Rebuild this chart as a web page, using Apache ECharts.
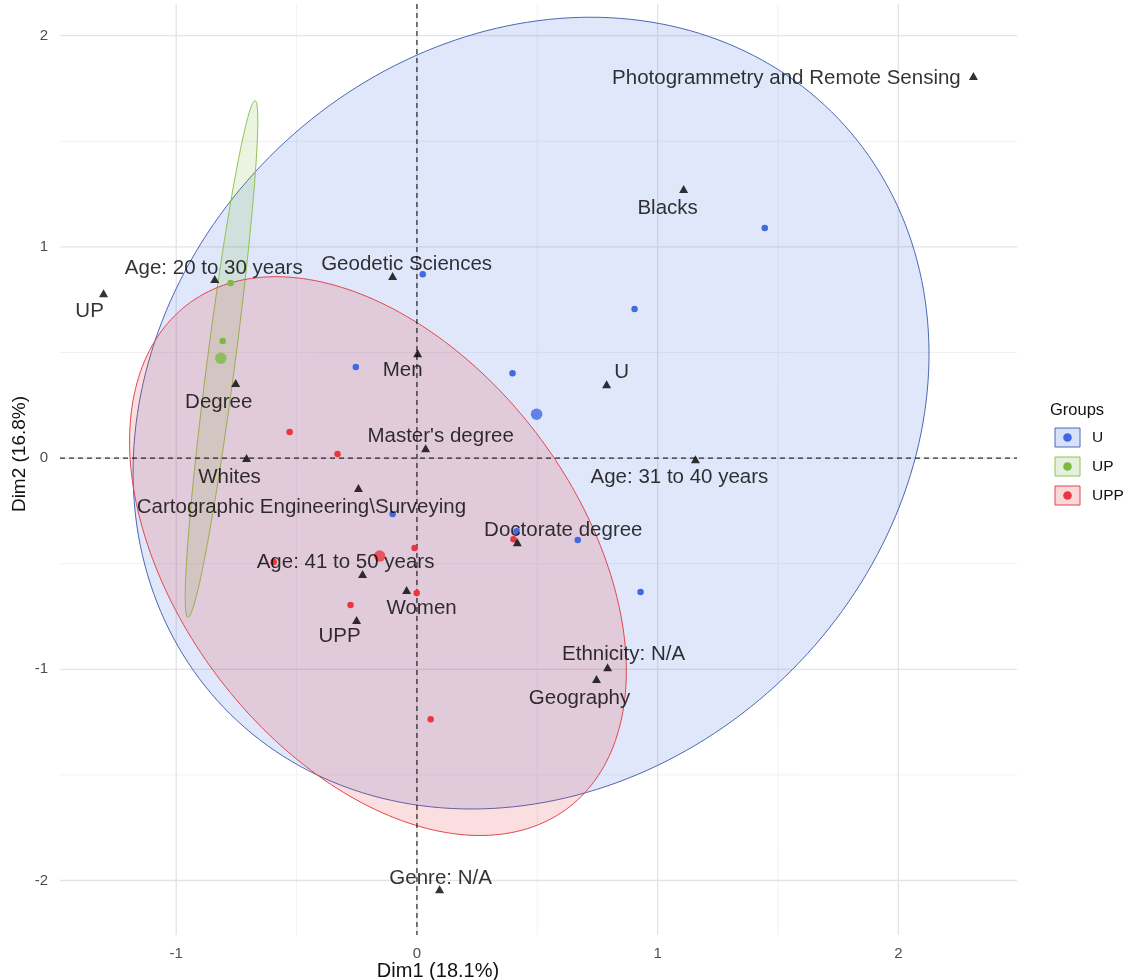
<!DOCTYPE html>
<html>
<head>
<meta charset="utf-8">
<title>MCA biplot</title>
<script src="https://cdn.jsdelivr.net/npm/echarts@6/dist/echarts.min.js"></script>
<style>
  html, body { margin: 0; padding: 0; background: #ffffff; }
  #chart { width: 1129px; height: 980px; }
</style>
</head>
<body>
<div id="chart"></div>
<script>
// ---- Variable categories (Dim1, Dim2) ----
const categoryNames = [
  'Photogrammetry and Remote Sensing', 'Blacks', 'Geodetic Sciences',
  'Age: 20 to 30 years', 'UP', 'Men', 'U', 'Degree', "Master's degree",
  'Whites', 'Age: 31 to 40 years', 'Cartographic Engineering\\Surveying',
  'Doctorate degree', 'Age: 41 to 50 years', 'Women', 'UPP',
  'Ethnicity: N/A', 'Geography', 'Genre: N/A'
];
const categoryDim1 = [2.312, 1.108, -0.101, -0.840, -1.302, 0.003, 0.788, -0.753, 0.036,
  -0.708, 1.157, -0.243, 0.417, -0.226, -0.043, -0.251, 0.792, 0.746, 0.094];
const categoryDim2 = [1.809, 1.274, 0.862, 0.848, 0.781, 0.497, 0.350, 0.355, 0.047,
  0.000, -0.005, -0.142, -0.398, -0.549, -0.625, -0.767, -0.990, -1.046, -2.041];

// ---- Individuals, by group ----
const groupNames = ['U', 'UP', 'UPP'];
const uDim1 = [1.445, 0.904, 0.024, -0.254, 0.397, -0.101, 0.414, 0.668, 0.929];
const uDim2 = [1.089, 0.706, 0.871, 0.431, 0.402, -0.265, -0.346, -0.388, -0.634];
const upDim1 = [-0.774, -0.807];
const upDim2 = [0.829, 0.554];
const uppDim1 = [-0.529, -0.330, -0.595, -0.010, 0.401, -0.001, -0.276, 0.057];
const uppDim2 = [0.123, 0.019, -0.492, -0.426, -0.384, -0.639, -0.696, -1.236];

// ---- Group means ----
const meanDim1 = [0.497, -0.815, -0.155];
const meanDim2 = [0.208, 0.473, -0.464];

// ---- Concentration ellipses: centre, semi-axes and rotation (degrees) ----
const ellipseDim1 = [0.474, -0.812, -0.162];
const ellipseDim2 = [0.213, 0.469, -0.464];
const ellipseMajor = [1.931, 1.231, 1.437];
const ellipseMinor = [1.587, 0.058, 0.866];
const ellipseAngle = [65.05, 83.5, 119.3];

// ---- Axes ----
const xTicks = [-1, 0, 1, 2];
const yTicks = [-2, -1, 0, 1, 2];
const xMinorTicks = [-0.5, 0.5, 1.5];
const yMinorTicks = [-1.5, -0.5, 0.5, 1.5];
const xTitle = 'Dim1 (18.1%)';
const yTitle = 'Dim2 (16.8%)';
const legendTitle = 'Groups';

// ---- Styling ----
const groupColors = ['#4169e1', '#7cba45', '#e8383d'];
const groupStroke = ['#4b68b4', '#8cc44e', '#e0474d'];
const fillAlpha = 0.16;
// label centre relative to its triangle, in pixels
const labelNudge = [[-187, 2], [-16, 19], [14, -12], [-1, -11], [-14, 18], [-15, 17],
  [15, -12], [-17, 19], [15, -12], [-17, 19], [-16, 18], [-57, 19], [46, -12],
  [-17, -12], [15, 18], [-17, 16], [16, -13], [-17, 19], [1, -11]];

function rgba(hex, a) {
  const n = parseInt(hex.slice(1), 16);
  return 'rgba(' + ((n >> 16) & 255) + ',' + ((n >> 8) & 255) + ',' + (n & 255) + ',' + a + ')';
}
function pairs(xs, ys) { return xs.map((x, i) => [x, ys[i]]); }

const chart = echarts.init(document.getElementById('chart'), null, { renderer: 'canvas' });

const X_MIN = -1.483, X_MAX = 2.493, Y_MIN = -2.258, Y_MAX = 2.15;
const FONT = '"Liberation Sans", Arial, sans-serif';

// grid lines through the plot panel
function gridLineSeries(values, vertical, width, color) {
  return {
    type: 'custom', silent: true, z: 0,
    data: values.map(v => vertical ? [v, 0] : [0, v]),
    renderItem(params, api) {
      const cs = params.coordSys;
      const p = api.coord([api.value(0), api.value(1)]);
      const shape = vertical
        ? { x1: p[0], y1: cs.y, x2: p[0], y2: cs.y + cs.height }
        : { x1: cs.x, y1: p[1], x2: cs.x + cs.width, y2: p[1] };
      return { type: 'line', shape, style: { stroke: color, lineWidth: width } };
    }
  };
}

const ellipseSeries = {
  type: 'custom', silent: true, z: 1,
  data: pairs(ellipseDim1, ellipseDim2),
  renderItem(params, api) {
    const i = params.dataIndex;
    const phi = ellipseAngle[i] * Math.PI / 180;
    const a = ellipseMajor[i], b = ellipseMinor[i];
    const cx = ellipseDim1[i], cy = ellipseDim2[i];
    const pts = [];
    for (let k = 0; k < 240; k++) {
      const t = k / 240 * Math.PI * 2;
      const x = cx + a * Math.cos(t) * Math.cos(phi) - b * Math.sin(t) * Math.sin(phi);
      const y = cy + a * Math.cos(t) * Math.sin(phi) + b * Math.sin(t) * Math.cos(phi);
      pts.push(api.coord([x, y]));
    }
    return {
      type: 'polygon', shape: { points: pts },
      style: { fill: rgba(groupColors[i], fillAlpha), stroke: groupStroke[i], lineWidth: 1 }
    };
  }
};

const zeroLines = {
  type: 'custom', silent: true, z: 2,
  data: [[0, 0]],
  renderItem(params, api) {
    const cs = params.coordSys;
    const p = api.coord([0, 0]);
    const st = { stroke: '#000', lineWidth: 1, lineDash: [5, 4] };
    return {
      type: 'group', children: [
        { type: 'line', shape: { x1: p[0], y1: cs.y, x2: p[0], y2: cs.y + cs.height }, style: st },
        { type: 'line', shape: { x1: cs.x, y1: p[1], x2: cs.x + cs.width, y2: p[1] }, style: st }
      ]
    };
  }
};

const indivData = [pairs(uDim1, uDim2), pairs(upDim1, upDim2), pairs(uppDim1, uppDim2)];
const indivSeries = groupNames.map((g, i) => ({
  name: g, type: 'scatter', z: 3, silent: true,
  symbol: 'circle', symbolSize: 6.5,
  itemStyle: { color: groupColors[i], opacity: 1 },
  data: indivData[i]
}));
const meanSeries = groupNames.map((g, i) => ({
  name: g + ' mean', type: 'scatter', z: 3, silent: true,
  symbol: 'circle', symbolSize: 11.5,
  itemStyle: { color: groupColors[i] },
  data: [[meanDim1[i], meanDim2[i]]]
}));

const categorySeries = {
  type: 'scatter', z: 4, silent: true,
  symbol: 'triangle', symbolSize: [9, 8],
  itemStyle: { color: '#000' },
  data: categoryNames.map((n, i) => ({ name: n, value: [categoryDim1[i], categoryDim2[i]] })),
  label: {
    show: true, position: 'inside', formatter: p => p.name,
    color: '#000000', fontSize: 20.5, fontFamily: FONT,
    align: 'center', verticalAlign: 'middle', textBorderWidth: 0
  },
  labelLayout: p => ({
    dx: labelNudge[p.dataIndex][0],
    dy: labelNudge[p.dataIndex][1],
    hideOverlap: false
  })
};

// legend keys
const legendGraphics = [{
  type: 'text', left: 1050, top: 402,
  style: { text: legendTitle, fontSize: 16.5, fontFamily: FONT, fill: '#111111' }
}];
groupNames.forEach((g, i) => {
  const y0 = 428 + i * 29;
  legendGraphics.push({
    type: 'rect', shape: { x: 1055, y: y0, width: 25, height: 19 },
    style: { fill: rgba(groupColors[i], 0.2), stroke: groupStroke[i], lineWidth: 1 }
  });
  legendGraphics.push({
    type: 'circle', shape: { cx: 1067.5, cy: y0 + 9.5, r: 4.3 },
    style: { fill: groupColors[i] }
  });
  legendGraphics.push({
    type: 'text', x: 1092, y: y0 + 9.5,
    style: { text: g, fontSize: 15.5, fontFamily: FONT, fill: '#111111', verticalAlign: 'middle' }
  });
});

const option = {
  animation: false,
  backgroundColor: '#ffffff',
  grid: { left: 60, right: 112, top: 4, bottom: 45, containLabel: false, outerBoundsMode: 'none' },
  xAxis: {
    type: 'value', min: X_MIN, max: X_MAX,
    axisLine: { show: false }, axisTick: { show: false },
    splitLine: { show: false },
    axisLabel: { customValues: xTicks, color: '#4d4d4d', fontSize: 15, fontFamily: FONT, margin: 11 }
  },
  yAxis: {
    type: 'value', min: Y_MIN, max: Y_MAX,
    axisLine: { show: false }, axisTick: { show: false },
    splitLine: { show: false },
    axisLabel: { customValues: yTicks, color: '#4d4d4d', fontSize: 15, fontFamily: FONT, margin: 12 }
  },
  graphic: [
    { type: 'text', x: 438, y: 971,
      style: { text: xTitle, fontSize: 20, fontFamily: '"Liberation Sans Narrow", ' + FONT, fill: '#111111', align: 'center', verticalAlign: 'middle' } },
    { type: 'text', x: 20, y: 454, rotation: Math.PI / 2,
      style: { text: yTitle, fontSize: 19, fontFamily: '"Liberation Sans Narrow", ' + FONT, fill: '#111111', align: 'center', verticalAlign: 'middle' } }
  ].concat(legendGraphics),
  series: [
    gridLineSeries(xMinorTicks, true, 0.8, '#eeeeee'),
    gridLineSeries(yMinorTicks, false, 0.8, '#eeeeee'),
    gridLineSeries(xTicks, true, 1.3, '#e4e4e4'),
    gridLineSeries(yTicks, false, 1.3, '#e4e4e4'),
    ellipseSeries,
    zeroLines
  ].concat(indivSeries, meanSeries, [categorySeries])
};

chart.setOption(option);
</script>
</body>
</html>
